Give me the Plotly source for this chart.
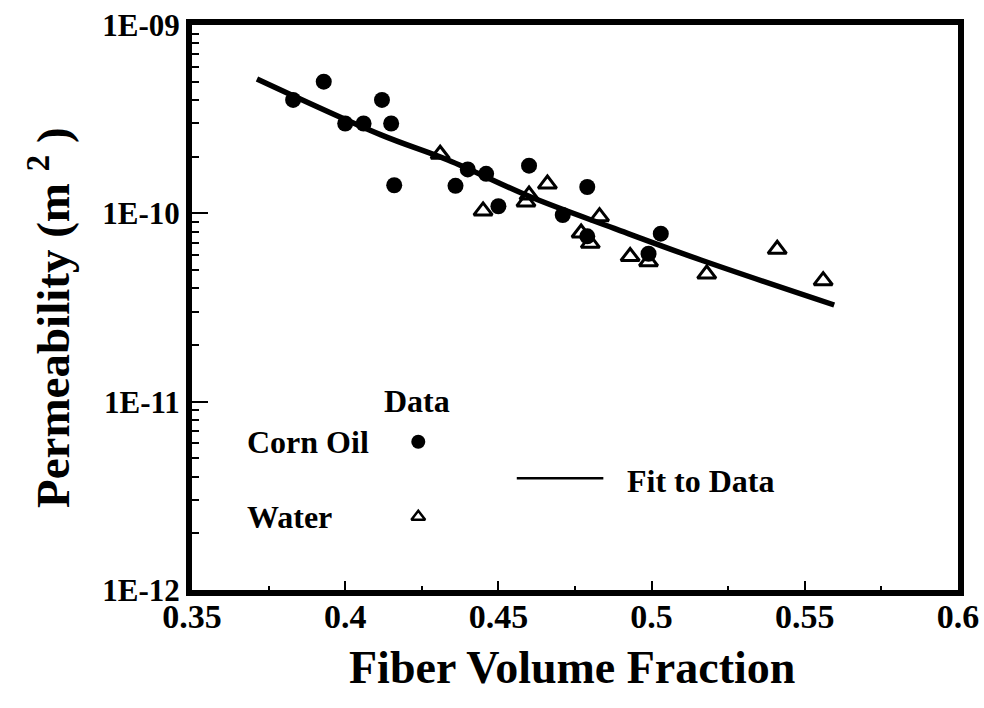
import plotly.graph_objects as go

# Corn oil data (fiber volume fraction, permeability m^2)
corn_vf = [0.383, 0.393, 0.400, 0.406, 0.412, 0.415, 0.416, 0.436, 0.440, 0.446,
           0.450, 0.460, 0.471, 0.479, 0.479, 0.499, 0.503]
corn_k = [4.0e-10, 5.0e-10, 3.0e-10, 3.0e-10, 4.0e-10, 3.0e-10, 1.41e-10, 1.4e-10, 1.71e-10, 1.62e-10,
          1.09e-10, 1.79e-10, 0.98e-10, 1.38e-10, 7.55e-11, 6.1e-11, 7.8e-11]

# Water data
water_vf = [0.431, 0.445, 0.460, 0.459, 0.466, 0.477, 0.480, 0.483, 0.493, 0.499,
            0.518, 0.541, 0.556]
water_k = [2.06e-10, 1.03e-10, 1.25e-10, 1.15e-10, 1.43e-10, 7.86e-11, 6.93e-11, 9.6e-11, 5.9e-11, 5.53e-11,
           4.76e-11, 6.44e-11, 4.39e-11]

# Fit to data
fit_vf = [0.3712, 0.4117, 0.4335, 0.4606, 0.4878, 0.5161, 0.5596]
fit_k = [5.17e-10, 2.61e-10, 1.92e-10, 1.22e-10, 8.32e-11, 5.65e-11, 3.26e-11]

y_tickvals = [1e-12, 1e-11, 1e-10, 1e-9]
y_ticktext = ["1E-12", "1E-11", "1E-10", "1E-09"]
x_tickvals = [0.35, 0.4, 0.45, 0.5, 0.55, 0.6]
x_ticktext = ["0.35", "0.4", "0.45", "0.5", "0.55", "0.6"]

FONT = "'Liberation Serif', 'Times New Roman', Times, serif"

fig = go.Figure()

fig.add_trace(go.Scatter(x=fit_vf, y=fit_k, mode="lines", name="Fit to Data",
                         line=dict(color="black", width=5.5, shape="spline"),
                         showlegend=False))
fig.add_trace(go.Scatter(x=corn_vf, y=corn_k, mode="markers", name="Corn Oil",
                         marker=dict(symbol="circle", size=16, color="black"),
                         showlegend=False))
fig.add_trace(go.Scatter(x=water_vf, y=water_k, mode="markers", name="Water",
                         marker=dict(symbol="triangle-up-open", size=16, color="black",
                                     line=dict(width=3, color="black")),
                         showlegend=False))

# Legend symbols on a hidden overlay axis (0..1 of the plot area)
fig.add_trace(go.Scatter(x=[0.2954], y=[0.2625], mode="markers", xaxis="x2", yaxis="y2",
                         marker=dict(symbol="circle", size=14, color="black"),
                         showlegend=False, hoverinfo="skip"))
fig.add_trace(go.Scatter(x=[0.2954], y=[0.1297], mode="markers", xaxis="x2", yaxis="y2",
                         marker=dict(symbol="triangle-up-open", size=12, color="black",
                                     line=dict(width=2.5, color="black")),
                         showlegend=False, hoverinfo="skip"))
fig.add_trace(go.Scatter(x=[0.424, 0.537], y=[0.1977, 0.1977], mode="lines", xaxis="x2", yaxis="y2",
                         line=dict(color="black", width=2.5),
                         showlegend=False, hoverinfo="skip"))

lab_font = dict(family=FONT, size=32, color="black")
annots = [
    dict(text="<b>Data</b>", x=0.2937, y=0.3345, xanchor="center", yanchor="middle"),
    dict(text="<b>Corn Oil</b>", x=0.0692, y=0.2625, xanchor="left", yanchor="middle"),
    dict(text="<b>Water</b>", x=0.0692, y=0.1297, xanchor="left", yanchor="middle"),
    dict(text="<b>Fit to Data</b>", x=0.5653, y=0.193, xanchor="left", yanchor="middle"),
]
for a in annots:
    a.update(xref="paper", yref="paper", showarrow=False, font=lab_font)

# Axis titles as annotations for exact placement
annots.append(dict(text="<b>Fiber Volume Fraction</b>", x=0.496, y=-0.138,
                   xref="paper", yref="paper", xanchor="center", yanchor="middle",
                   showarrow=False, font=dict(family=FONT, size=46, color="black")))
annots.append(dict(text="<b>Permeability (m <sup>2</sup> )</b>", x=-0.1854, y=0.4832,
                   xref="paper", yref="paper", xanchor="center", yanchor="middle",
                   textangle=-90, showarrow=False,
                   font=dict(family=FONT, size=47, color="black")))

fig.update_layout(
    width=984, height=708,
    margin=dict(l=192, r=26, t=25, b=118),
    paper_bgcolor="white", plot_bgcolor="white",
    font=dict(family=FONT, color="black"),
    annotations=annots,
    xaxis=dict(
        range=[0.35, 0.6], tickvals=x_tickvals,
        ticktext=["<b>%s</b>" % t for t in x_ticktext],
        showline=True, linewidth=6, linecolor="black", mirror=True,
        ticks="inside", ticklen=9, tickwidth=2, tickcolor="black",
        minor=dict(ticks="inside", ticklen=4, tickwidth=2, tickcolor="black", dtick=0.025),
        showgrid=False, zeroline=False, automargin=False,
        ticklabelstandoff=-9,
        tickfont=dict(family=FONT, size=34, color="black"),
    ),
    yaxis=dict(
        type="log", range=[-12, -9], tickvals=y_tickvals,
        ticktext=["<b>%s</b>" % t for t in y_ticktext],
        showline=True, linewidth=6, linecolor="black", mirror=True,
        ticks="inside", ticklen=16, tickwidth=2, tickcolor="black",
        minor=dict(ticks="inside", ticklen=7, tickwidth=2, tickcolor="black", dtick="D1"),
        showgrid=False, zeroline=False, automargin=False,
        tickfont=dict(family=FONT, size=31, color="black"),
    ),
    xaxis2=dict(overlaying="x", range=[0, 1], visible=False, fixedrange=True),
    yaxis2=dict(overlaying="y", range=[0, 1], visible=False, fixedrange=True),
)

fig.write_html("out.html")
